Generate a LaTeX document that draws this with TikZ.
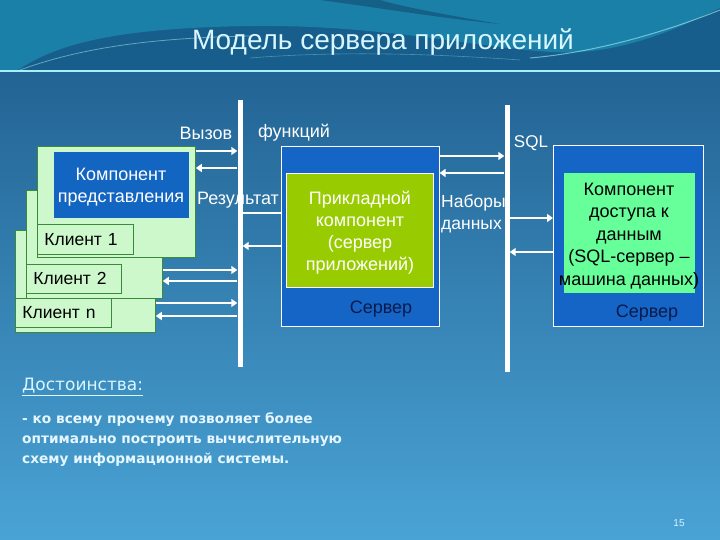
\documentclass[tikz,border=0pt]{standalone}
\usepackage{fontspec}
\setmainfont{Liberation Sans}
\newfontfamily\vfont{DejaVu Sans}
\usetikzlibrary{arrows.meta}
\definecolor{bgtop}{HTML}{1C5A8A}
\definecolor{bgmid}{HTML}{2F7DB3}
\definecolor{bgbot}{HTML}{4AA3D5}
\definecolor{hdrdark}{HTML}{185E8C}
\definecolor{hdrteal}{HTML}{1A80A8}
\definecolor{titlec}{HTML}{D8F6FF}
\definecolor{hdrline}{HTML}{A8F0F8}
\definecolor{cgreen}{HTML}{CCF8CC}
\definecolor{cborder}{HTML}{3A8A3A}
\definecolor{pblue}{HTML}{1365C2}
\definecolor{sblue}{HTML}{1565C6}
\definecolor{agreen}{HTML}{99CC00}
\definecolor{dgreen}{HTML}{66FF99}
\definecolor{srvtext}{HTML}{0B1A4A}
\definecolor{bottxt}{HTML}{E6F6FF}
\tikzset{
  cbox/.style={draw=cborder, fill=cgreen, line width=0.8pt, anchor=north west, inner sep=0pt},
  lbox/.style={draw=cborder, fill=cgreen, line width=0.8pt, anchor=north west, inner xsep=7pt, inner ysep=0pt, align=left, font=\fontsize{17.5}{20}\selectfont, text=black},
  srvbox/.style={draw=white, fill=sblue, line width=0.6pt, anchor=north west, inner sep=0pt},
  bus/.style={fill=white, draw=none, inner sep=0pt, minimum width=5pt, anchor=north},
  arr/.style={white, line width=2.5pt, -{Triangle[length=6pt,width=8pt]}},
  pl/.style={white, line width=2.5pt},
  lbl/.style={font=\fontsize{18}{22}\selectfont, text=white, inner sep=0pt},
  btxt/.style={font=\fontsize{18}{22}\selectfont, align=center, inner sep=0pt},
}
\begin{document}
\begin{tikzpicture}[x=1pt, y=-1pt]
\useasboundingbox (0,0) rectangle (720,540);
% background
\shade[top color=bgtop, middle color=bgmid, bottom color=bgbot] (0,0) rectangle (720,540);
\fill[hdrdark] (0,0) rectangle (720,72);
\fill[hdrteal] (0,0) -- (0,72) -- (15,72) .. controls (60,40) and (130,28) .. (250,26)
  .. controls (400,24) and (510,56) .. (580,52) .. controls (640,48) and (690,22) .. (720,8) -- (720,0) -- cycle;
\fill[hdrdark!80!black, opacity=0.6] (320,0) .. controls (380,8) and (440,18) .. (500,24) .. controls (440,14) and (400,6) .. (380,0) -- cycle;
\draw[hdrline, opacity=0.5, line width=0.8pt] (20,70) .. controls (80,48) and (150,38) .. (250,36);
\draw[hdrline, opacity=0.6, line width=1pt] (530,58) .. controls (600,52) and (670,30) .. (720,10);
\draw[hdrline, opacity=0.35, line width=0.6pt] (250,58) .. controls (350,50) and (450,55) .. (520,60);
% title and header line
\node[font=\fontsize{28}{32}\selectfont, text=titlec, inner sep=0pt] (title) at (383,42) {Модель сервера приложений};
\draw[hdrline, line width=2.5pt] (0,71) -- (720,71);

% buses
\node[bus, minimum height=267pt] (bus1) at (240,100) {};
\node[bus, minimum height=267pt] (bus2) at (507,105) {};

% client stack
\node[cbox, minimum width=140pt, minimum height=102pt] (c3) at (15,230) {};
\node[lbox, text width=82pt, minimum height=29pt] (kn) at (15,298) {Клиент n};
\node[cbox, minimum width=136pt, minimum height=108pt] (c2) at (26,190) {};
\node[lbox, text width=81pt, minimum height=29pt] (k2) at (26,264) {Клиент 2};
\node[cbox, minimum width=158pt, minimum height=111pt] (c1) at (37,146) {};
\node[draw=none, fill=pblue, anchor=north west, minimum width=135pt, minimum height=66pt, inner sep=0pt] (presin) at (54,152) {};
\node[btxt, text=white] (prestxt) at (121,187) {Компонент\\представления};
\node[lbox, text width=82pt, minimum height=30pt] (k1) at (37,224) {Клиент 1};

% application server
\node[srvbox, minimum width=158pt, minimum height=180pt] (app) at (281,146) {};
\node[draw=white, line width=0.6pt, fill=agreen, anchor=north west, minimum width=147pt, minimum height=114pt, inner sep=0pt] (appin) at (286,173) {};
\node[btxt, text=white] (apptxt) at (360,233) {Прикладной\\компонент\\(сервер\\приложений)};
\node[lbl, text=srvtext] (appsrv) at (381,309) {Сервер};

% db server
\node[srvbox, minimum width=150pt, minimum height=181pt] (db) at (553,145) {};
\node[draw=none, fill=dgreen, anchor=north west, minimum width=131pt, minimum height=120pt, inner sep=0pt] (dbin) at (564,173) {};
\node[btxt, text=black, font=\fontsize{18}{22.5}\selectfont] (dbtxt) at (629,236) {Компонент\\доступа к\\данным\\(SQL-сервер –\\машина данных)};
\node[lbl, text=srvtext] (dbsrv) at (647,313) {Сервер};

% labels
\node[lbl] (call) at (206,133) {Вызов};
\node[lbl] (func) at (294,133) {функций};
\node[lbl] (res) at (238,200) {Результат};
\node[lbl, font=\fontsize{17}{20}\selectfont] (sql) at (531,143) {SQL};
\node[lbl, align=left, anchor=north west, font=\fontsize{17.5}{22}\selectfont] (nab) at (441,194) {Наборы\\данных};

% arrows left side
\draw[arr] (c1.east |- 0,151) -- (bus1.west |- 0,151);
\draw[arr] (bus1.west |- 0,168) -- (c1.east |- 0,168);
\draw[pl] (bus1.east |- 0,213) -- (app.west |- 0,213);
\draw[arr] (app.west |- 0,246) -- (bus1.east |- 0,246);
\draw[arr] (c2.east |- 0,270) -- (bus1.west |- 0,270);
\draw[arr] (bus1.west |- 0,281) -- (c2.east |- 0,281);
\draw[arr] (c3.east |- 0,303) -- (bus1.west |- 0,303);
\draw[arr] (bus1.west |- 0,316) -- (c3.east |- 0,316);
% arrows right side
\draw[arr] (app.east |- 0,156) -- (bus2.west |- 0,156);
\draw[arr] (bus2.west |- 0,173) -- (app.east |- 0,173);
\draw[arr] (bus2.east |- 0,218) -- (db.west |- 0,218);
\draw[arr] (db.west |- 0,252) -- (bus2.east |- 0,252);

% bottom text
\node[anchor=west, inner sep=0pt, text=titlec, font=\vfont\fontsize{17}{20}\selectfont] (adv) at (22,387) {\underline{Достоинства:}};
\node[anchor=north west, inner sep=0pt, align=left, text=bottxt, font=\vfont\bfseries\fontsize{13.7}{20}\selectfont] (advtxt) at (22,412) {- ко всему прочему позволяет более\\оптимально построить вычислительную\\схему информационной системы.};
\node[inner sep=0pt, text=titlec, font=\fontsize{10}{11}\selectfont] (pg) at (679,523) {15};
\end{tikzpicture}
\end{document}
